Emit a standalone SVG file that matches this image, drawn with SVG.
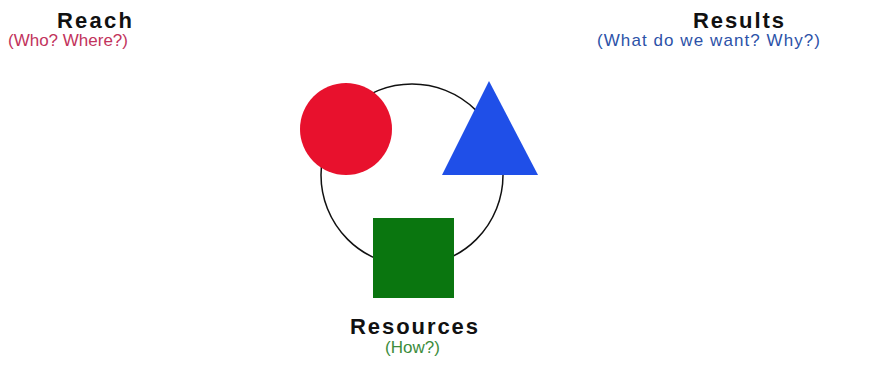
<svg xmlns="http://www.w3.org/2000/svg" width="879" height="366" viewBox="0 0 879 366">
<style>
.t{font-family:"Liberation Sans",Arial,sans-serif;font-weight:bold;font-size:22px;fill:#111;}
.s{font-family:"Liberation Sans",Arial,sans-serif;font-size:17px;}
</style>
<rect width="879" height="366" fill="#fff"/>
<g id="connectors">
<circle cx="412" cy="175" r="91" fill="none" stroke="#111" stroke-width="1.5"/>
</g>
<g id="reach">
<circle cx="346" cy="129" r="46" fill="#e8112d"/>
<text class="t" x="57" y="28" textLength="75" lengthAdjust="spacing">Reach</text>
<text class="s" x="8" y="46" fill="#c2335c" textLength="120" lengthAdjust="spacing">(Who? Where?)</text>
</g>
<g id="results">
<polygon points="489,81 538,175 442,175" fill="#1f4fe8"/>
<text class="t" x="693" y="28" textLength="91" lengthAdjust="spacing">Results</text>
<text class="s" x="597" y="46" fill="#2c52a8" textLength="223" lengthAdjust="spacing">(What do we want? Why?)</text>
</g>
<g id="resources">
<rect x="373" y="218" width="81" height="80" fill="#0a760f"/>
<text class="t" x="350" y="334" textLength="128" lengthAdjust="spacing">Resources</text>
<text class="s" x="385" y="353" fill="#3c8c3c" textLength="55" lengthAdjust="spacing">(How?)</text>
</g>
</svg>
